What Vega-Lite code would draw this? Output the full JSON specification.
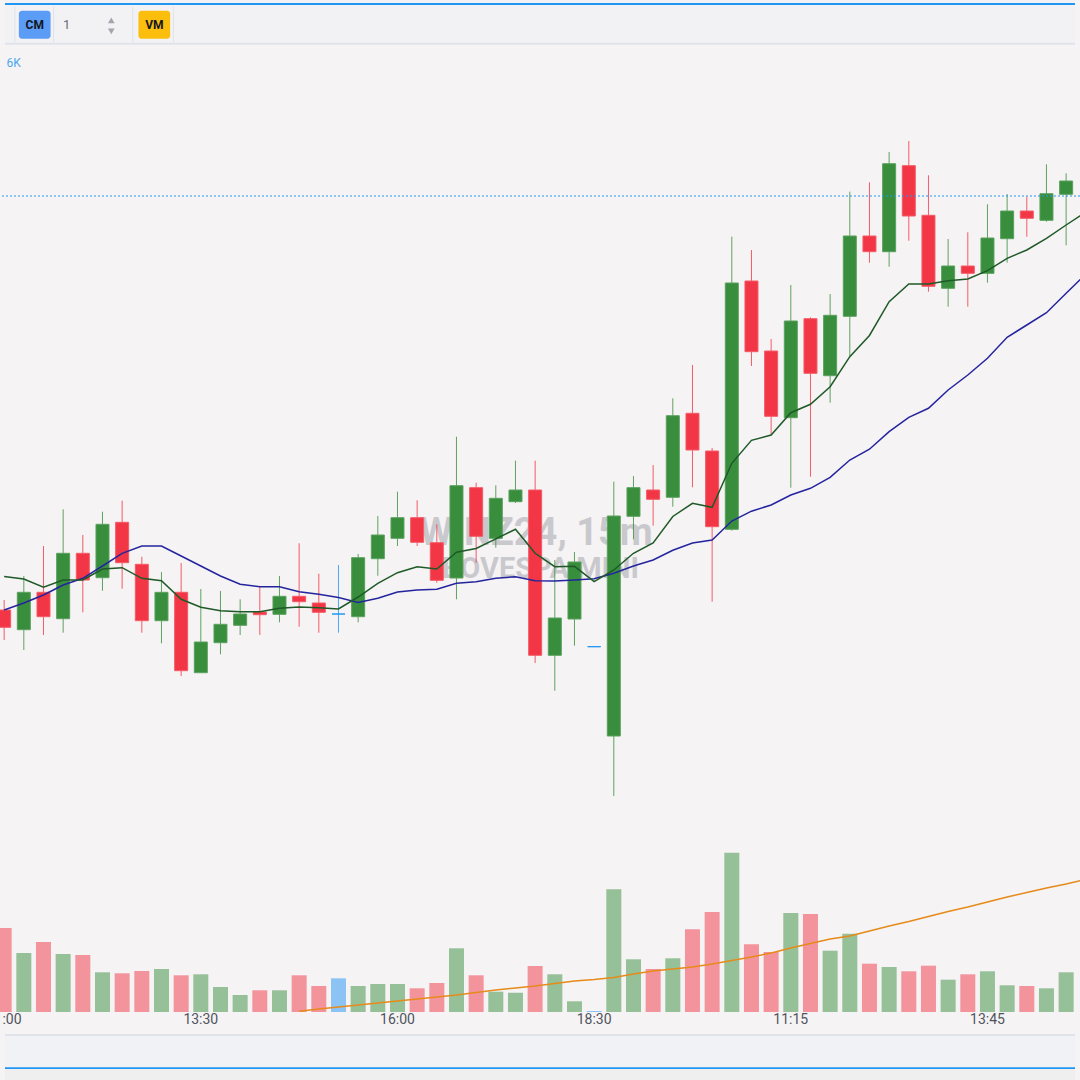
{
"$schema": "https://vega.github.io/schema/vega-lite/v6.json",
"width": 1080, "height": 1080,
"autosize": {"type": "none"},
"padding": 0,
"background": "#f5f3f4",
"config": {"view": {"stroke": null}},
"datasets": {
"ui": [{}],
"candles": [
{"i":-1,"t":"11:00","d":"down","o":470,"h":480,"l":440,"c":452.7,"v":84,"m1":503.5,"m2":470,"vm":null},
{"i":0,"t":"11:15","d":"up","o":450.3,"h":504,"l":430,"c":487.7,"v":59,"m1":501,"m2":477,"vm":null},
{"i":1,"t":"11:30","d":"down","o":487.7,"h":534,"l":445,"c":463.3,"v":70,"m1":492.7,"m2":485,"vm":null},
{"i":2,"t":"11:45","d":"up","o":461.3,"h":570.7,"l":447.3,"c":526.7,"v":58,"m1":500,"m2":495,"vm":null},
{"i":3,"t":"12:00","d":"down","o":526.7,"h":545,"l":467.7,"c":500,"v":57,"m1":500,"m2":501.7,"vm":null},
{"i":4,"t":"12:15","d":"up","o":502.3,"h":568.3,"l":489.3,"c":555.7,"v":39.7,"m1":511,"m2":514,"vm":null},
{"i":5,"t":"12:30","d":"down","o":557.7,"h":579.3,"l":491.3,"c":517.3,"v":38.7,"m1":512.3,"m2":526.7,"vm":null},
{"i":6,"t":"12:45","d":"down","o":515.7,"h":523.3,"l":447.3,"c":459.3,"v":41,"m1":501.7,"m2":534,"vm":null},
{"i":7,"t":"13:00","d":"up","o":459.3,"h":508,"l":436.7,"c":487.7,"v":43,"m1":499.3,"m2":534,"vm":null},
{"i":8,"t":"13:15","d":"down","o":487.7,"h":517,"l":404,"c":409.3,"v":36.7,"m1":480.7,"m2":524,"vm":null},
{"i":9,"t":"13:30","d":"up","o":407.3,"h":491,"l":407.3,"c":438,"v":37.7,"m1":472.7,"m2":514,"vm":null},
{"i":10,"t":"13:45","d":"up","o":437.3,"h":489,"l":425.7,"c":455.7,"v":25,"m1":469.3,"m2":504,"vm":null},
{"i":11,"t":"14:00","d":"up","o":454.7,"h":480.7,"l":445,"c":466,"v":17,"m1":468.3,"m2":495.7,"vm":null},
{"i":12,"t":"14:15","d":"down","o":468,"h":493.3,"l":445,"c":465.3,"v":21.7,"m1":468.3,"m2":493.3,"vm":null},
{"i":13,"t":"14:30","d":"up","o":465.7,"h":504,"l":457.7,"c":483.7,"v":21.7,"m1":471.7,"m2":493.3,"vm":null},
{"i":14,"t":"14:45","d":"down","o":483.7,"h":536.7,"l":453.3,"c":478.3,"v":36.7,"m1":473,"m2":488.3,"vm":0.7},
{"i":15,"t":"15:00","d":"down","o":477,"h":506.3,"l":447.3,"c":467.7,"v":26,"m1":472.3,"m2":485.7,"vm":3},
{"i":16,"t":"15:15","d":"flat","o":466,"h":515,"l":447.3,"c":466,"v":33.7,"m1":471,"m2":482.5,"vm":5},
{"i":17,"t":"15:30","d":"up","o":463.3,"h":526,"l":457.7,"c":522.3,"v":26,"m1":483,"m2":477.5,"vm":7},
{"i":18,"t":"15:45","d":"up","o":521.3,"h":564,"l":504.3,"c":545,"v":28,"m1":496.7,"m2":481.7,"vm":9},
{"i":19,"t":"16:00","d":"up","o":541.7,"h":588.3,"l":534,"c":562.3,"v":28,"m1":507.3,"m2":488,"vm":11},
{"i":20,"t":"16:15","d":"down","o":562.3,"h":579.7,"l":534,"c":537.7,"v":23.7,"m1":513.3,"m2":490,"vm":13},
{"i":21,"t":"16:30","d":"down","o":537.3,"h":555.7,"l":497.3,"c":499.7,"v":29,"m1":511,"m2":490.7,"vm":15},
{"i":22,"t":"16:45","d":"up","o":502,"h":643.3,"l":480.7,"c":594.3,"v":63.7,"m1":527.7,"m2":496.7,"vm":17},
{"i":23,"t":"17:00","d":"down","o":592.3,"h":597.3,"l":517.3,"c":543.7,"v":36.7,"m1":531.5,"m2":498.3,"vm":19.5},
{"i":24,"t":"17:15","d":"up","o":541.7,"h":594.7,"l":532.3,"c":581.7,"v":20.3,"m1":541.2,"m2":501.7,"vm":22},
{"i":25,"t":"17:30","d":"up","o":578.3,"h":619.3,"l":577,"c":590,"v":19.3,"m1":550.7,"m2":503.3,"vm":24},
{"i":26,"t":"17:45","d":"down","o":590,"h":619.3,"l":417,"c":424.7,"v":46,"m1":526.7,"m2":499.3,"vm":26},
{"i":27,"t":"18:00","d":"up","o":424.7,"h":520,"l":389.3,"c":462,"v":37.7,"m1":513.3,"m2":499,"vm":28.5},
{"i":28,"t":"18:15","d":"up","o":461,"h":528,"l":434.3,"c":518,"v":10.7,"m1":513.7,"m2":500,"vm":31},
{"i":29,"t":"18:30","d":"flat","o":433.3,"h":433.3,"l":433.3,"c":433.3,"v":1,"m1":498.3,"m2":501.3,"vm":32.5},
{"i":30,"t":"09:00","d":"up","o":344,"h":598.3,"l":284,"c":564,"v":122.7,"m1":510,"m2":506.7,"vm":34.5},
{"i":31,"t":"09:15","d":"up","o":563.7,"h":604,"l":540.7,"c":592.3,"v":52.7,"m1":526.7,"m2":514,"vm":38},
{"i":32,"t":"09:30","d":"down","o":590,"h":615,"l":554.3,"c":580.7,"v":43,"m1":537,"m2":520,"vm":41},
{"i":33,"t":"09:45","d":"up","o":582.7,"h":681.7,"l":573.3,"c":664.3,"v":53.7,"m1":563.5,"m2":529.7,"vm":43},
{"i":34,"t":"10:00","d":"down","o":666.7,"h":715,"l":592.7,"c":630,"v":82.7,"m1":576.7,"m2":537,"vm":45},
{"i":35,"t":"10:15","d":"down","o":629,"h":632,"l":478.3,"c":553.3,"v":100,"m1":572.7,"m2":540,"vm":48},
{"i":36,"t":"10:30","d":"up","o":550.7,"h":843.3,"l":549.3,"c":797,"v":159.3,"m1":616.7,"m2":559,"vm":51.5},
{"i":37,"t":"10:45","d":"down","o":799,"h":830,"l":714,"c":728.3,"v":67.7,"m1":639.7,"m2":568.8,"vm":55},
{"i":38,"t":"11:00","d":"down","o":729,"h":741,"l":645,"c":663.7,"v":60,"m1":645,"m2":575,"vm":59},
{"i":39,"t":"11:15","d":"up","o":662.3,"h":795,"l":592.3,"c":759,"v":99,"m1":667.3,"m2":585,"vm":64},
{"i":40,"t":"11:30","d":"down","o":761.3,"h":762.7,"l":603.3,"c":706.7,"v":98,"m1":675.7,"m2":591.7,"vm":68.5},
{"i":41,"t":"11:45","d":"up","o":704.3,"h":786,"l":677.3,"c":764.7,"v":61.3,"m1":693.3,"m2":602.7,"vm":73},
{"i":42,"t":"12:00","d":"up","o":763.7,"h":888.3,"l":724,"c":844,"v":78.3,"m1":723.3,"m2":620,"vm":76},
{"i":43,"t":"12:15","d":"down","o":844,"h":897.7,"l":817.3,"c":828.3,"v":48.3,"m1":744.5,"m2":630.8,"vm":81},
{"i":44,"t":"12:30","d":"up","o":828.3,"h":928,"l":813.3,"c":916.3,"v":45,"m1":778.3,"m2":648.3,"vm":86},
{"i":45,"t":"12:45","d":"down","o":914.3,"h":939,"l":839.3,"c":864,"v":40.7,"m1":796,"m2":662.7,"vm":90.5},
{"i":46,"t":"13:00","d":"down","o":864.7,"h":904.7,"l":788.3,"c":793.7,"v":46.3,"m1":796,"m2":671.7,"vm":95.5},
{"i":47,"t":"13:15","d":"up","o":791.7,"h":841,"l":773.3,"c":814,"v":32.3,"m1":799.3,"m2":690,"vm":100.5},
{"i":48,"t":"13:30","d":"down","o":814,"h":847.7,"l":773.3,"c":806.7,"v":37.7,"m1":801,"m2":705,"vm":105},
{"i":49,"t":"13:45","d":"up","o":806.7,"h":875.7,"l":797.3,"c":842,"v":40.7,"m1":809.3,"m2":721.7,"vm":110},
{"i":50,"t":"14:00","d":"up","o":841.3,"h":886,"l":817.3,"c":869,"v":26.7,"m1":821.7,"m2":742.7,"vm":115},
{"i":51,"t":"14:15","d":"down","o":869,"h":883.3,"l":843.3,"c":861.7,"v":26,"m1":830,"m2":755,"vm":119.5},
{"i":52,"t":"14:30","d":"up","o":859.7,"h":915.7,"l":858.3,"c":886.3,"v":23.7,"m1":841.7,"m2":767.3,"vm":124},
{"i":53,"t":"14:45","d":"up","o":885.7,"h":906.7,"l":834.7,"c":899,"v":39.7,"m1":855,"m2":786.7,"vm":128},
{"i":54,"t":null,"d":null,"o":null,"h":null,"l":null,"c":null,"v":null,"m1":868,"m2":806,"vm":132.5}
]
},
"layer": [
{
"data": {"name": "candles"},
"layer": [
{"data": {"name": "ui"}, "mark": {"type": "rect", "fill": "#f2f2f5", "clip": true},
 "encoding": {"x": {"datum": -0.957, "type": "quantitative", "scale": {"domain": [-0.957, 53.451], "nice": false, "zero": false}, "axis": null}, "x2": {"datum": 53.451},
  "y": {"datum": 1080, "type": "quantitative", "scale": {"domain": [0, 1080], "nice": false, "zero": false}, "axis": null}, "y2": {"datum": 1036}}},
{"data": {"name": "ui"}, "mark": {"type": "rect", "fill": "#e0e3eb", "clip": true},
 "encoding": {"x": {"datum": -0.957, "type": "quantitative", "scale": {"domain": [-0.957, 53.451], "nice": false, "zero": false}, "axis": null}, "x2": {"datum": 53.451},
  "y": {"datum": 1037.3, "type": "quantitative", "scale": {"domain": [0, 1080], "nice": false, "zero": false}, "axis": null}, "y2": {"datum": 1035.3}}},
{"data": {"name": "ui"}, "mark": {"type": "rect", "fill": "#2196f3", "clip": true},
 "encoding": {"x": {"datum": -0.957, "type": "quantitative", "scale": {"domain": [-0.957, 53.451], "nice": false, "zero": false}, "axis": null}, "x2": {"datum": 53.451},
  "y": {"datum": 1077, "type": "quantitative", "scale": {"domain": [0, 1080], "nice": false, "zero": false}, "axis": null}, "y2": {"datum": 1075}}},
{"data": {"name": "ui"}, "mark": {"type": "rule", "color": "#e0e3eb", "strokeWidth": 1, "clip": true},
 "encoding": {"x": {"datum": -0.453, "type": "quantitative", "scale": {"domain": [-0.957, 53.451], "nice": false, "zero": false}, "axis": null},
  "y": {"datum": 1073.3, "type": "quantitative", "scale": {"domain": [0, 1080], "nice": false, "zero": false}, "axis": null}, "y2": {"datum": 1037.3}}},
{"data": {"name": "ui"}, "mark": {"type": "rule", "color": "#e0e3eb", "strokeWidth": 1, "clip": true},
 "encoding": {"x": {"datum": 1.511, "type": "quantitative", "scale": {"domain": [-0.957, 53.451], "nice": false, "zero": false}, "axis": null},
  "y": {"datum": 1073.3, "type": "quantitative", "scale": {"domain": [0, 1080], "nice": false, "zero": false}, "axis": null}, "y2": {"datum": 1037.3}}},
{"data": {"name": "ui"}, "mark": {"type": "rule", "color": "#e0e3eb", "strokeWidth": 1, "clip": true},
 "encoding": {"x": {"datum": 5.542, "type": "quantitative", "scale": {"domain": [-0.957, 53.451], "nice": false, "zero": false}, "axis": null},
  "y": {"datum": 1073.3, "type": "quantitative", "scale": {"domain": [0, 1080], "nice": false, "zero": false}, "axis": null}, "y2": {"datum": 1037.3}}},
{"data": {"name": "ui"}, "mark": {"type": "rule", "color": "#e0e3eb", "strokeWidth": 1, "clip": true},
 "encoding": {"x": {"datum": 7.607, "type": "quantitative", "scale": {"domain": [-0.957, 53.451], "nice": false, "zero": false}, "axis": null},
  "y": {"datum": 1073.3, "type": "quantitative", "scale": {"domain": [0, 1080], "nice": false, "zero": false}, "axis": null}, "y2": {"datum": 1037.3}}},
{"data": {"name": "ui"}, "mark": {"type": "rect", "fill": "#5b9cf6", "cornerRadius": 3, "clip": true},
 "encoding": {"x": {"datum": -0.252, "type": "quantitative", "scale": {"domain": [-0.957, 53.451], "nice": false, "zero": false}, "axis": null}, "x2": {"datum": 1.36},
  "y": {"datum": 1069.3, "type": "quantitative", "scale": {"domain": [0, 1080], "nice": false, "zero": false}, "axis": null}, "y2": {"datum": 1041.3}}},
{"data": {"name": "ui"}, "mark": {"type": "rect", "fill": "#fbbe0c", "cornerRadius": 3, "clip": true},
 "encoding": {"x": {"datum": 5.829, "type": "quantitative", "scale": {"domain": [-0.957, 53.451], "nice": false, "zero": false}, "axis": null}, "x2": {"datum": 7.441},
  "y": {"datum": 1069.3, "type": "quantitative", "scale": {"domain": [0, 1080], "nice": false, "zero": false}, "axis": null}, "y2": {"datum": 1041.3}}},
{"data": {"name": "ui"}, "mark": {"type": "text", "text": "CM", "font": "Roboto", "fontSize": 12, "fontWeight": "bold", "fill": "#131722", "align": "center", "baseline": "alphabetic", "clip": true},
 "encoding": {"x": {"datum": 0.554, "type": "quantitative", "scale": {"domain": [-0.957, 53.451], "nice": false, "zero": false}, "axis": null},
  "y": {"datum": 1050.7, "type": "quantitative", "scale": {"domain": [0, 1080], "nice": false, "zero": false}, "axis": null}}},
{"data": {"name": "ui"}, "mark": {"type": "text", "text": "VM", "font": "Roboto", "fontSize": 12, "fontWeight": "bold", "fill": "#131722", "align": "center", "baseline": "alphabetic", "clip": true},
 "encoding": {"x": {"datum": 6.635, "type": "quantitative", "scale": {"domain": [-0.957, 53.451], "nice": false, "zero": false}, "axis": null},
  "y": {"datum": 1050.7, "type": "quantitative", "scale": {"domain": [0, 1080], "nice": false, "zero": false}, "axis": null}}},
{"data": {"name": "ui"}, "mark": {"type": "text", "text": "1", "font": "Roboto", "fontSize": 13, "fill": "#6a6d78", "align": "center", "baseline": "alphabetic", "clip": true},
 "encoding": {"x": {"datum": 2.181, "type": "quantitative", "scale": {"domain": [-0.957, 53.451], "nice": false, "zero": false}, "axis": null},
  "y": {"datum": 1050.7, "type": "quantitative", "scale": {"domain": [0, 1080], "nice": false, "zero": false}, "axis": null}}},
{"data": {"name": "ui"}, "mark": {"type": "point", "shape": "triangle-up", "filled": true, "size": 45, "color": "#a3a6af", "opacity": 1, "clip": true},
 "encoding": {"x": {"datum": 4.448, "type": "quantitative", "scale": {"domain": [-0.957, 53.451], "nice": false, "zero": false}, "axis": null},
  "y": {"datum": 1059.7, "type": "quantitative", "scale": {"domain": [0, 1080], "nice": false, "zero": false}, "axis": null}}},
{"data": {"name": "ui"}, "mark": {"type": "point", "shape": "triangle-down", "filled": true, "size": 45, "color": "#a3a6af", "opacity": 1, "clip": true},
 "encoding": {"x": {"datum": 4.448, "type": "quantitative", "scale": {"domain": [-0.957, 53.451], "nice": false, "zero": false}, "axis": null},
  "y": {"datum": 1048.7, "type": "quantitative", "scale": {"domain": [0, 1080], "nice": false, "zero": false}, "axis": null}}},
{"data": {"name": "ui"}, "mark": {"type": "text", "text": "6K", "font": "Roboto", "fontSize": 12, "fill": "#4fa7ef", "align": "right", "baseline": "alphabetic", "clip": true},
 "encoding": {"x": {"datum": -0.151, "type": "quantitative", "scale": {"domain": [-0.957, 53.451], "nice": false, "zero": false}, "axis": null},
  "y": {"datum": 1013.3, "type": "quantitative", "scale": {"domain": [0, 1080], "nice": false, "zero": false}, "axis": null}}},
{"data": {"name": "ui"}, "mark": {"type": "rect", "fill": "#e0e3e9", "clip": true},
 "encoding": {"x": {"datum": -0.957, "type": "quantitative", "scale": {"domain": [-0.957, 53.451], "nice": false, "zero": false}, "axis": null}, "x2": {"datum": 53.451},
  "y": {"datum": 46, "type": "quantitative", "scale": {"domain": [0, 1080], "nice": false, "zero": false}, "axis": null}, "y2": {"datum": 44}}},
{"data": {"name": "ui"}, "mark": {"type": "rect", "fill": "#f1f2f6", "clip": true},
 "encoding": {"x": {"datum": -0.957, "type": "quantitative", "scale": {"domain": [-0.957, 53.451], "nice": false, "zero": false}, "axis": null}, "x2": {"datum": 53.451},
  "y": {"datum": 44, "type": "quantitative", "scale": {"domain": [0, 1080], "nice": false, "zero": false}, "axis": null}, "y2": {"datum": 12.7}}},
{"data": {"name": "ui"}, "mark": {"type": "rect", "fill": "#2196f3", "clip": true},
 "encoding": {"x": {"datum": -0.957, "type": "quantitative", "scale": {"domain": [-0.957, 53.451], "nice": false, "zero": false}, "axis": null}, "x2": {"datum": 53.451},
  "y": {"datum": 12.7, "type": "quantitative", "scale": {"domain": [0, 1080], "nice": false, "zero": false}, "axis": null}, "y2": {"datum": 11}}},
{"data": {"name": "ui"}, "mark": {"type": "rect", "fill": "#efefef", "clip": true},
 "encoding": {"x": {"datum": -0.957, "type": "quantitative", "scale": {"domain": [-0.957, 53.451], "nice": false, "zero": false}, "axis": null}, "x2": {"datum": 53.451},
  "y": {"datum": 11, "type": "quantitative", "scale": {"domain": [0, 1080], "nice": false, "zero": false}, "axis": null}, "y2": {"datum": 0}}},
{"data": {"name": "ui"}, "mark": {"type": "text", "text": "WINZ24, 15m", "font": "Roboto", "fontSize": 38, "fontWeight": "bold", "fill": "#787b86", "opacity": 0.35, "align": "center", "baseline": "alphabetic", "clip": true},
 "encoding": {"x": {"datum": 26.05, "type": "quantitative", "scale": {"domain": [-0.957, 53.451], "nice": false, "zero": false}, "axis": null},
  "y": {"datum": 535, "type": "quantitative", "scale": {"domain": [0, 1080], "nice": false, "zero": false}, "axis": null}}},
{"data": {"name": "ui"}, "mark": {"type": "text", "text": "IBOVESPA MINI", "font": "Roboto", "fontSize": 29, "fontWeight": "bold", "fill": "#787b86", "opacity": 0.35, "align": "center", "baseline": "alphabetic", "clip": true},
 "encoding": {"x": {"datum": 26.05, "type": "quantitative", "scale": {"domain": [-0.957, 53.451], "nice": false, "zero": false}, "axis": null},
  "y": {"datum": 501.7, "type": "quantitative", "scale": {"domain": [0, 1080], "nice": false, "zero": false}, "axis": null}}},
{"transform": [{"filter": "isValid(datum.h)"}],
 "mark": {"type": "rule", "strokeWidth": 1, "opacity": 0.8, "clip": true},
 "encoding": {"x": {"field": "i", "type": "quantitative", "scale": {"domain": [-0.957, 53.451], "nice": false, "zero": false}, "axis": null},
  "y": {"field": "l", "type": "quantitative", "scale": {"domain": [0, 1080], "nice": false, "zero": false}, "axis": null}, "y2": {"field": "h"},
  "color": {"field": "d", "type": "nominal", "scale": {"domain": ["up", "down", "flat"], "range": ["#388e3c", "#f23645", "#2196f3"]}, "legend": null}}},
{"transform": [{"filter": "isValid(datum.o)"}],
 "mark": {"type": "bar", "width": 13, "strokeWidth": 1, "clip": true},
 "encoding": {"x": {"field": "i", "type": "quantitative", "scale": {"domain": [-0.957, 53.451], "nice": false, "zero": false}, "axis": null},
  "y": {"field": "o", "type": "quantitative", "scale": {"domain": [0, 1080], "nice": false, "zero": false}, "axis": null}, "y2": {"field": "c"},
  "color": {"field": "d", "type": "nominal", "scale": {"domain": ["up", "down", "flat"], "range": ["#388e3c", "#f23645", "#2196f3"]}, "legend": null},
  "stroke": {"field": "d", "type": "nominal", "scale": {"domain": ["up", "down", "flat"], "range": ["#5aa05d", "#f45a66", "#2196f3"]}, "legend": null}}},
{"mark": {"type": "line", "color": "#24249e", "strokeWidth": 1.5, "clip": true},
 "encoding": {"x": {"field": "i", "type": "quantitative", "scale": {"domain": [-0.957, 53.451], "nice": false, "zero": false}, "axis": null},
  "y": {"field": "m2", "type": "quantitative", "scale": {"domain": [0, 1080], "nice": false, "zero": false}, "axis": null}}},
{"mark": {"type": "line", "color": "#1e5a27", "strokeWidth": 1.5, "clip": true},
 "encoding": {"x": {"field": "i", "type": "quantitative", "scale": {"domain": [-0.957, 53.451], "nice": false, "zero": false}, "axis": null},
  "y": {"field": "m1", "type": "quantitative", "scale": {"domain": [0, 1080], "nice": false, "zero": false}, "axis": null}}},
{"data": {"name": "ui"}, "mark": {"type": "rule", "color": "#2196f3", "strokeWidth": 1, "strokeDash": [2, 2], "clip": true},
 "encoding": {"y": {"datum": 884, "type": "quantitative", "scale": {"domain": [0, 1080], "nice": false, "zero": false}, "axis": null}}},
{"transform": [{"filter": "isValid(datum.t) && (datum.i + 1) % 10 == 0"}],
 "mark": {"type": "text", "font": "Roboto", "fontSize": 14, "fill": "#50535e", "align": "center", "baseline": "alphabetic", "clip": true},
 "encoding": {"x": {"field": "i", "type": "quantitative", "scale": {"domain": [-0.957, 53.451], "nice": false, "zero": false}, "axis": null},
  "y": {"datum": 55.7, "type": "quantitative", "scale": {"domain": [0, 1080], "nice": false, "zero": false}, "axis": null},
  "text": {"field": "t"}}}
]
},
{
"data": {"name": "candles"},
"layer": [
{"transform": [{"filter": "isValid(datum.v)"}],
 "mark": {"type": "bar", "width": 15, "opacity": 0.5, "clip": true},
 "encoding": {"x": {"field": "i", "type": "quantitative", "scale": {"domain": [-0.957, 53.451], "nice": false, "zero": false}, "axis": null},
  "y": {"field": "v", "type": "quantitative", "scale": {"domain": [-68, 1012], "nice": false, "zero": false}, "axis": null}, "y2": {"datum": 0},
  "color": {"field": "d", "type": "nominal", "scale": {"domain": ["up", "down", "flat"], "range": ["#388e3c", "#f23645", "#2196f3"]}, "legend": null}}},
{"transform": [{"filter": "isValid(datum.vm)"}],
 "mark": {"type": "line", "color": "#e68a1a", "strokeWidth": 1.5, "clip": true},
 "encoding": {"x": {"field": "i", "type": "quantitative", "scale": {"domain": [-0.957, 53.451], "nice": false, "zero": false}, "axis": null},
  "y": {"field": "vm", "type": "quantitative", "scale": {"domain": [-68, 1012], "nice": false, "zero": false}, "axis": null}}}
]
}
],
"resolve": {"scale": {"y": "independent"}}
}
